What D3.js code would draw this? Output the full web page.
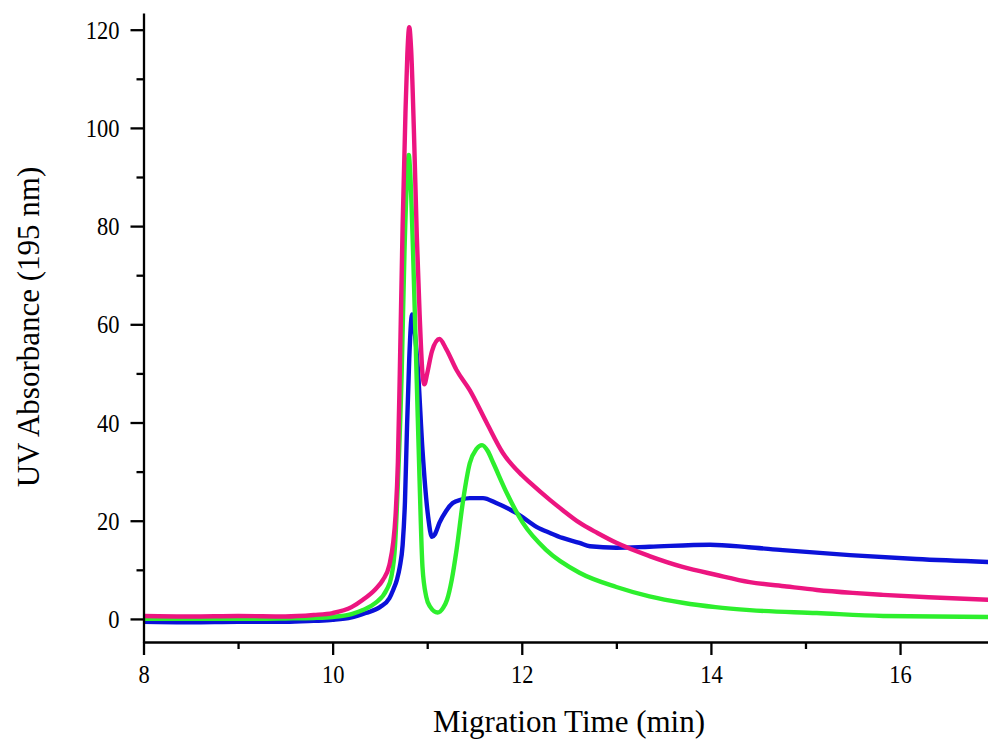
<!DOCTYPE html>
<html>
<head>
<meta charset="utf-8">
<script src="https://cdn.jsdelivr.net/npm/d3@7"></script>
<style>
  html, body { margin: 0; padding: 0; background: #fff; }
  svg { display: block; }
</style>
</head>
<body>
<svg id="chart" width="988" height="740"></svg>
<script>
// ---- data ----
const xMajorTicks = [8, 10, 12, 14, 16];
const xMinorTicks = [9, 11, 13, 15];
const yMajorTicks = [0, 20, 40, 60, 80, 100, 120];
const yMinorTicks = [10, 30, 50, 70, 90, 110];

const xTitle = "Migration Time (min)";
const yTitle = "UV Absorbance (195 nm)";

// [time (min), absorbance]
const seriesBlue = [
  [8.0,-0.6],[8.5,-0.7],[9.0,-0.6],[9.5,-0.6],[9.8,-0.4],[10.0,-0.2],[10.2,0.3],[10.35,1.2],
  [10.5,2.4],[10.6,4.2],[10.64,5.9],[10.68,8.0],[10.71,10.6],[10.74,15],[10.765,24],[10.785,38],
  [10.81,53],[10.84,62],[10.87,58],[10.9,51.3],[10.95,34.4],[11.01,20.8],[11.05,16.7],
  [11.08,17.2],[11.13,19.6],[11.2,22.0],[11.27,23.6],[11.36,24.3],[11.45,24.6],[11.59,24.6],[11.73,23.6],
  [11.94,21.6],[12.16,18.7],[12.3,17.5],[12.43,16.5],[12.61,15.5],[12.72,14.8],[13.0,14.5],
  [13.35,14.7],[13.99,15.1],[14.4,14.6],[14.76,14.0],[15.47,13.0],[16.17,12.2],[16.93,11.6]
];
const seriesGreen = [
  [8.0,0.0],[8.5,0.0],[9.0,0.0],[9.5,0.1],[9.8,0.2],[10.0,0.4],[10.2,1.0],[10.32,1.8],
  [10.45,3.2],[10.57,5.9],[10.62,8.5],[10.66,15],[10.69,27.7],[10.73,50],[10.76,75],[10.79,91],
  [10.805,94.5],[10.82,91],[10.85,75],[10.89,48],[10.92,27.7],[10.95,10.6],[10.99,4.5],
  [11.03,2.5],[11.11,1.3],[11.17,2.3],[11.21,3.9],[11.26,8.0],[11.31,14.0],[11.38,24.2],
  [11.45,31.7],[11.52,34.6],[11.58,35.4],[11.64,34.2],[11.7,31.7],[11.84,25.7],[12.01,19.6],
  [12.26,14.0],[12.61,9.4],[13.0,6.5],[13.35,4.6],[13.7,3.3],[14.05,2.4],[14.41,1.8],
  [15.12,1.2],[15.82,0.6],[16.93,0.4]
];
const seriesMagenta = [
  [8.0,0.6],[8.5,0.5],[9.0,0.6],[9.5,0.5],[9.8,0.8],[10.0,1.2],[10.2,2.4],[10.32,3.9],
  [10.45,6.0],[10.53,7.9],[10.6,11.0],[10.64,15.5],[10.665,21],[10.69,32],[10.71,50],[10.74,80],
  [10.77,103],[10.79,115],[10.81,120.5],[10.83,116],[10.86,99],[10.89,78],[10.92,62],
  [10.95,50],[10.97,47.8],[11.0,50],[11.05,54.5],[11.13,57],[11.2,55],[11.31,50.7],
  [11.45,46.6],[11.63,39.9],[11.8,33.8],[12.0,29.3],[12.09,27.7],[12.3,24.2],[12.43,22.2],
  [12.61,19.6],[12.8,17.5],[13.0,15.5],[13.35,12.8],[13.7,10.6],[14.05,9.0],[14.41,7.5],
  [14.8,6.6],[15.12,5.9],[15.5,5.3],[15.82,4.9],[16.3,4.4],[16.93,3.9]
];

const seriesList = [
  { name: "blue", data: seriesBlue, color: "#0b12d9" },
  { name: "green", data: seriesGreen, color: "#2def2d" },
  { name: "magenta", data: seriesMagenta, color: "#ec1580" }
];

// ---- chart ----
const svg = d3.select("#chart");
const x = d3.scaleLinear().domain([8, 16.93]).range([143.5, 988]);
const y = d3.scaleLinear().domain([-4.7, 123.4]).range([642, 13]);

const font = "'Liberation Serif', 'Times New Roman', serif";
const tickFont = 25;
const squeeze = 0.9;

// lines
const line = d3.line()
  .x(d => x(d[0]))
  .y(d => y(d[1]))
  .curve(d3.curveMonotoneX);

svg.append("defs").append("clipPath").attr("id", "plotclip")
  .append("rect").attr("x", 143.5).attr("y", 0).attr("width", 988 - 143.5).attr("height", 642);

const plot = svg.append("g").attr("clip-path", "url(#plotclip)");
seriesList.forEach(s => {
  plot.append("path")
    .datum(s.data)
    .attr("fill", "none")
    .attr("stroke", s.color)
    .attr("stroke-width", 4.4)
    .attr("stroke-linejoin", "round")
    .attr("stroke-linecap", "round")
    .attr("d", line);
});

// x axis
const xAxisG = svg.append("g").attr("transform", "translate(0,642)");
xAxisG.call(d3.axisBottom(x).tickValues(xMajorTicks).tickSize(13).tickSizeOuter(0)
  .tickFormat(d3.format("d")));
const xMinorG = svg.append("g").attr("transform", "translate(0,642)");
xMinorG.call(d3.axisBottom(x).tickValues(xMinorTicks).tickSize(7).tickSizeOuter(0).tickFormat(""));
xMinorG.select(".domain").remove();

// y axis
const yAxisG = svg.append("g").attr("transform", "translate(143.5,0)");
yAxisG.call(d3.axisLeft(y).tickValues(yMajorTicks).tickSize(13).tickSizeOuter(0)
  .tickFormat(d3.format("d")));
const yMinorG = svg.append("g").attr("transform", "translate(143.5,0)");
yMinorG.call(d3.axisLeft(y).tickValues(yMinorTicks).tickSize(7).tickSizeOuter(0).tickFormat(""));
yMinorG.select(".domain").remove();

[xAxisG, xMinorG, yAxisG, yMinorG].forEach(g => {
  g.selectAll("path, line").attr("stroke", "#000").attr("stroke-width", 2.3);
  g.selectAll("text").attr("fill", "#000").style("font-family", font).style("font-size", tickFont + "px");
});
xAxisG.selectAll(".tick text")
  .attr("y", 41).attr("dy", 0)
  .attr("transform", `scale(${squeeze},1)`);
yAxisG.selectAll(".tick text")
  .attr("x", -24 / squeeze).attr("dy", "0.34em")
  .attr("transform", `scale(${squeeze},1)`);

// titles
svg.append("text")
  .attr("x", 569).attr("y", 732)
  .attr("text-anchor", "middle")
  .style("font-family", font).style("font-size", "31px").attr("fill", "#000")
  .text(xTitle);

svg.append("text")
  .attr("transform", "translate(39,327) rotate(-90)")
  .attr("text-anchor", "middle")
  .style("font-family", font).style("font-size", "31px").attr("fill", "#000")
  .text(yTitle);
</script>
</body>
</html>
